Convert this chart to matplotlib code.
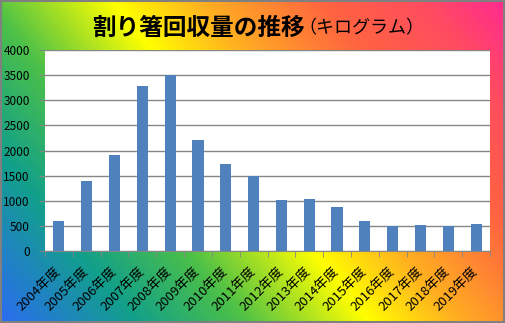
import numpy as np
import matplotlib.pyplot as plt
from matplotlib.colors import LinearSegmentedColormap

plt.rcParams['font.family'] = ['Noto Sans CJK JP', 'DejaVu Sans']

# collected amount of disposable chopsticks per fiscal year (kg)
years = ['2004年度', '2005年度', '2006年度', '2007年度', '2008年度', '2009年度',
         '2010年度', '2011年度', '2012年度', '2013年度', '2014年度', '2015年度',
         '2016年度', '2017年度', '2018年度', '2019年度']
amounts = [590, 1400, 1920, 3290, 3500, 2200, 1740, 1500, 1020, 1040, 880, 600,
           500, 520, 500, 540]
y_ticks = [0, 500, 1000, 1500, 2000, 2500, 3000, 3500, 4000]

W, H = 505, 323
fig = plt.figure(figsize=(W / 100, H / 100), dpi=100)

# diagonal rainbow background
bg = fig.add_axes([0, 0, 1, 1], zorder=0)
xx, yy = np.meshgrid(np.arange(W), np.arange(H))
k = 0.8
s = (xx + k * (H - yy)) / (W + k * H)
stops = [(0.0, '#2b6cf2'), (0.18, '#12a08a'), (0.32, '#4cc048'),
         (0.485, '#ffff00'), (0.60, '#ffb020'), (0.76, '#ff6440'),
         (0.89, '#ff4c60'), (1.0, '#ff2a90')]
cmap = LinearSegmentedColormap.from_list('bg', stops)
bg.imshow(s, cmap=cmap, aspect='auto', extent=[0, W, H, 0], vmin=0, vmax=1)
bg.set_xlim(0, W)
bg.set_ylim(H, 0)
bg.axis('off')
bg.add_patch(plt.Rectangle((0.5, 0.5), W - 1.5, H - 1.5, fill=False,
                           edgecolor='#808080', linewidth=1.5))

ax = fig.add_axes([45 / W, 1 - 251 / H, 445 / W, 201 / H], zorder=1)
ax.set_facecolor('white')
x = np.arange(len(years))
ax.bar(x, amounts, width=0.4, color='#4f81bd', zorder=3)
ax.set_xlim(-0.5, len(years) - 0.5)
ax.set_ylim(0, 4000)
ax.set_yticks(y_ticks)
ax.yaxis.grid(True, color='#868686', linewidth=1)
ax.set_axisbelow(True)
for side in ['top', 'right', 'left']:
    ax.spines[side].set_visible(False)
ax.spines['bottom'].set_color('#868686')
ax.tick_params(axis='y', length=4, color='#868686', labelsize=8.5, pad=7)

# category boundary ticks and slanted labels
ax.set_xticks(np.arange(-0.5, len(years)), minor=True)
ax.tick_params(axis='x', which='minor', length=4, color='#868686')
ax.set_xticks(x)
ax.set_xticklabels(years, rotation=45, ha='right', va='center',
                   rotation_mode='anchor', fontsize=9.5)
ax.tick_params(axis='x', which='major', length=0, pad=13)

fig.text(305 / W, 1 - 28 / H, '割り箸回収量の推移', fontsize=17, fontweight='bold',
         ha='right', va='center')
fig.text(298 / W, 1 - 28 / H, '（キログラム）', fontsize=13, ha='left', va='center')

fig.savefig('out.png', dpi=100)
